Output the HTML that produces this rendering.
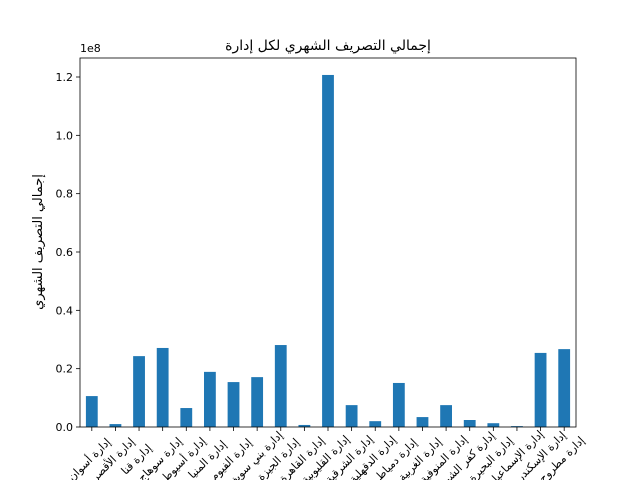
<!DOCTYPE html>
<html><head><meta charset="utf-8"><style>
html,body{margin:0;padding:0;background:#fff;}
svg{display:block;font-family:"DejaVu Sans","Liberation Sans",sans-serif;}
</style></head><body>
<svg id="chart" width="640" height="480" xmlns="http://www.w3.org/2000/svg">
<rect width="640" height="480" fill="#fff"/>
<text x="328" y="50" font-size="14" text-anchor="middle">إجمالي التصريف الشهري لكل إدارة</text>
<text transform="translate(42,242) rotate(-90)" font-size="13" text-anchor="middle">إجمالي التصريف الشهري</text>
<text x="80" y="52" font-size="11">1e8</text>
<g id="bars"></g><g id="yt"></g><g id="xt"></g>
<rect x="80" y="58" width="496" height="369" fill="none" stroke="#000" stroke-width="0.8"/>
</svg>
<script>
const categories=["إدارة أسوان","إدارة الأقصر","إدارة قنا","إدارة سوهاج","إدارة أسيوط","إدارة المنيا","إدارة الفيوم","إدارة بني سويف","إدارة الجيزة","إدارة القاهرة","إدارة القليوبية","إدارة الشرقية","إدارة الدقهلية","إدارة دمياط","إدارة الغربية","إدارة المنوفية","إدارة كفر الشيخ","إدارة البحيرة","إدارة الإسماعيلية","إدارة الإسكندرية","إدارة مطروح"];
const values=[1.06e7,0.1e7,2.43e7,2.71e7,0.65e7,1.89e7,1.54e7,1.71e7,2.81e7,0.07e7,12.07e7,0.75e7,0.2e7,1.51e7,0.34e7,0.75e7,0.24e7,0.13e7,0.03e7,2.54e7,2.67e7];
const yTicks=[0,0.2e8,0.4e8,0.6e8,0.8e8,1.0e8,1.2e8];
const yTickLabels=["0.0","0.2","0.4","0.6","0.8","1.0","1.2"];
const NS="http://www.w3.org/2000/svg";
const L=80,R=576,B=427,T=58,yMax=1.2e8,yPixMax=77;
const y=v=>B-(v/yMax)*(B-yPixMax);
const step=(R-L)/categories.length;
const x=i=>L+step*(i+0.5);
function mk(t,a,p){const e=document.createElementNS(NS,t);for(const k in a)e.setAttribute(k,a[k]);p.appendChild(e);return e;}
const bars=document.getElementById('bars'),yt=document.getElementById('yt'),xt=document.getElementById('xt');
values.forEach((v,i)=>{
 const r=mk('rect',{x:x(i)-step*0.25,y:y(v),width:step*0.5,height:B-y(v),fill:'#1f77b4'},bars);
 
 
});
yTicks.forEach((t,i)=>{
 const l=mk('line',{x1:L-4,x2:L,y1:y(t),y2:y(t),stroke:'#000','stroke-width':0.8},yt);
 
 
 const tx=mk('text',{x:L-7,y:y(t)+4,'font-size':11,'text-anchor':'end'},yt);
 tx.textContent=yTickLabels[i];
 
 
});
categories.forEach((c,i)=>{
 const l=mk('line',{x1:x(i),x2:x(i),y1:B,y2:B+4,stroke:'#000','stroke-width':0.8},xt);
 
 
 const tx=mk('text',{transform:'translate('+x(i)+',462) rotate(-45)','font-size':11,'text-anchor':'middle'},xt);
 tx.textContent=c;
 
 
});
</script>
</body></html>
